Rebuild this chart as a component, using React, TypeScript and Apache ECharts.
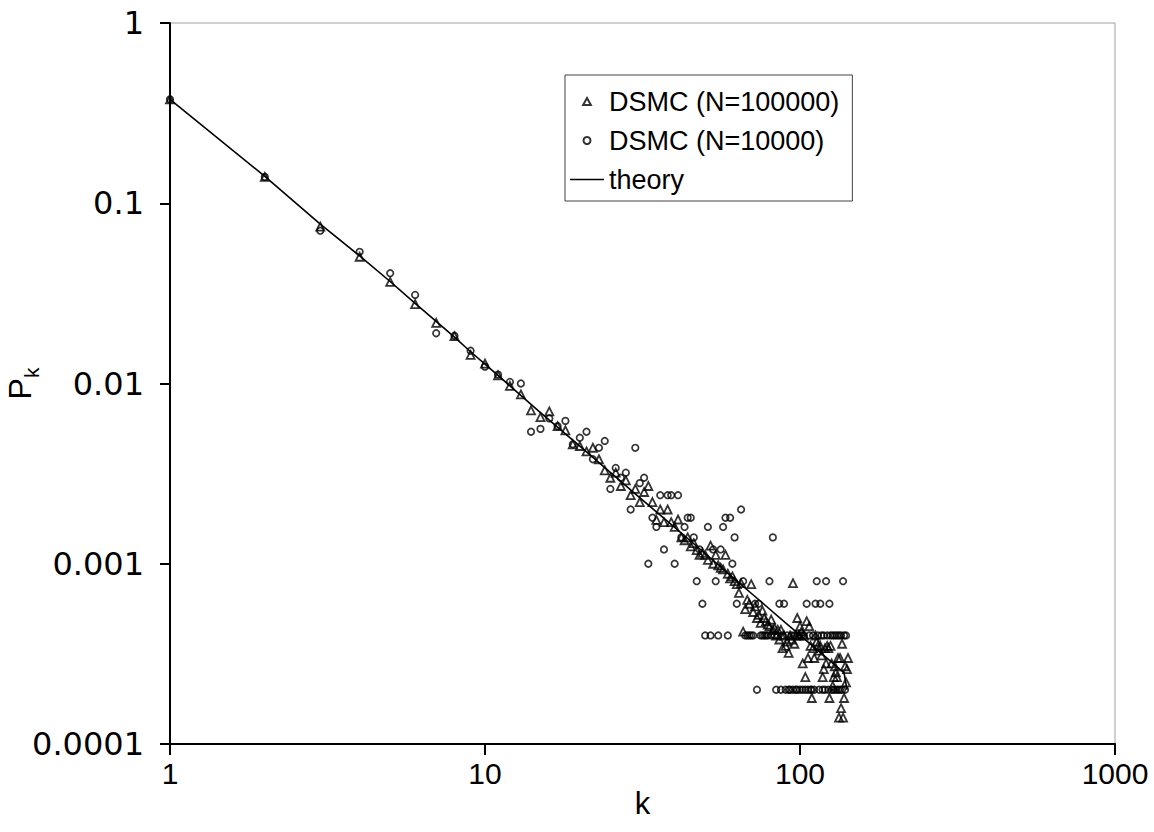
import React, { useEffect, useRef } from 'react';
import * as echarts from 'echarts';

const xTickLabels = ['1', '10', '100', '1000'];
const yTickLabels = ['0.0001', '0.001', '0.01', '0.1', '1'];

const theoryK = [1, 2, 3, 4, 5, 6, 7, 8, 9, 10, 12, 15, 20, 25, 30, 40, 50, 60, 70, 80, 90, 100, 110, 120, 130, 138, 141];
const theoryP = [0.377, 0.141, 0.0765, 0.051, 0.0368, 0.0278, 0.0221, 0.0181, 0.015, 0.0128, 0.0097, 0.0069, 0.00449, 0.00321, 0.00244, 0.00159, 0.00114, 0.000864, 0.000686, 0.000561, 0.00047, 0.000402, 0.000348, 0.000306, 0.000271, 0.000248, 0.0002];

const triK = [
  1, 2, 3, 4, 5, 6, 7, 8, 9, 10, 11, 12, 13, 14, 15, 16, 17, 18, 19, 20,
  21, 22, 23, 24, 25, 26, 27, 28, 29, 30, 31, 32, 33, 34, 35, 36, 37, 38, 39, 40,
  41, 42, 43, 44, 45, 46, 47, 48, 49, 50, 51, 52, 53, 54, 55, 56, 57, 58, 59, 60,
  61, 62, 63, 64, 65, 66, 67, 68, 69, 70, 71, 72, 73, 74, 75, 76, 77, 78, 79, 80,
  81, 82, 83, 84, 85, 86, 87, 88, 89, 90, 91, 92, 93, 94, 95, 96, 97, 98, 99, 100,
  101, 102, 103, 104, 105, 106, 107, 108, 109, 110, 111, 112, 113, 114, 115, 116, 117, 118, 119, 120,
  121, 122, 123, 124, 125, 126, 127, 128, 129, 130, 131, 132, 133, 134, 135, 136, 137, 138, 139, 140,
  141, 142,
];
const triP = [
  0.377, 0.14, 0.0741, 0.0505, 0.0366, 0.0276, 0.0217, 0.0183, 0.0144, 0.0129,
  0.0111, 0.0097, 0.0087, 0.0071, 0.0065, 0.007, 0.0058, 0.0055, 0.0046, 0.0045,
  0.0042, 0.0044, 0.0038, 0.0033, 0.003, 0.0032, 0.0027, 0.0029, 0.0024, 0.0026,
  0.0022, 0.0025, 0.0027, 0.0022, 0.00175, 0.002, 0.0017, 0.002, 0.0017, 0.0016,
  0.00176, 0.0014, 0.00135, 0.0014, 0.00125, 0.0013, 0.00119, 0.00112, 0.00115, 0.00112,
  0.00105, 0.00126, 0.001, 0.00112, 0.00098, 0.00095, 0.00093, 0.00112, 0.00088, 0.00083,
  0.00085, 0.0008, 0.00077, 0.00069, 0.00078, 0.00042, 0.00056, 0.00063, 0.0006, 0.00077,
  0.00054, 0.00058, 0.0005, 0.00052, 0.00047, 0.00055, 0.0005, 0.00048, 0.00046, 0.00045,
  0.00049, 0.00043, 0.00044, 0.0004, 0.00043, 0.00038, 0.00043, 0.00034, 0.0004, 0.00035,
  0.00037, 0.00032, 0.0004, 0.00038, 0.00078, 0.00036, 0.0004, 0.0005, 0.0004, 0.00045,
  0.00042, 0.00028, 0.0004, 0.000235, 0.00048, 0.0003, 0.00045, 0.00035, 0.00018, 0.00034,
  0.0003, 0.0004, 0.00037, 0.00035, 0.00033, 0.00035, 0.00031, 0.000235, 0.00026, 0.00034,
  0.00028, 0.00035, 0.00034, 0.00018, 0.00035, 0.00028, 0.00021, 0.000235, 0.00027, 0.00025,
  0.000235, 0.0003, 0.00014, 0.0003, 0.000158, 0.00036, 0.00014, 0.00018, 0.00027, 0.00022,
  0.00026, 0.0003,
];

const circK = [
  1, 2, 3, 4, 5, 6, 7, 8, 9, 10, 11, 12, 13, 14, 15, 16, 17, 18, 19, 20,
  21, 22, 23, 24, 25, 26, 27, 28, 29, 30, 31, 32, 33, 34, 35, 36, 37, 38, 39, 40,
  41, 42, 43, 44, 45, 46, 47, 48, 49, 50, 51, 52, 53, 54, 55, 56, 57, 58, 59, 60,
  61, 62, 63, 65, 66, 67, 68, 69, 70, 71, 72, 73, 74, 75, 76, 77, 78, 79, 80,
  81, 82, 83, 84, 85, 86, 87, 88, 89, 90, 91, 92, 93, 94, 95, 96, 97, 98, 99, 100,
  101, 102, 103, 104, 105, 106, 107, 108, 109, 110, 111, 112, 113, 114, 115, 116, 117, 118, 119, 120,
  121, 122, 123, 124, 125, 126, 127, 128, 129, 130, 131, 132, 133, 134, 135, 136, 137, 138, 139, 140,
];
const circP = [
  0.377, 0.14, 0.0704, 0.0538, 0.0409, 0.031, 0.019, 0.0184, 0.0152, 0.0124,
  0.0112, 0.0102, 0.01, 0.0054, 0.0056, 0.0064, 0.0058, 0.0062, 0.0046, 0.005,
  0.0054, 0.0038, 0.0044, 0.0048, 0.0026, 0.0034, 0.003, 0.0032, 0.002, 0.0044,
  0.0028, 0.003, 0.001, 0.0018, 0.0016, 0.0024, 0.0012, 0.0024, 0.0024, 0.001,
  0.0024, 0.0014, 0.0016, 0.0018, 0.0018, 0.0014, 0.0008, 0.0012, 0.0006, 0.0004,
  0.0016, 0.0004, 0.0012, 0.0008, 0.0004, 0.0012, 0.0016, 0.0018, 0.0004, 0.0018,
  0.001, 0.0014, 0.0006, 0.002, 0.0008, 0.0004, 0.0004, 0.0004, 0.0004, 0.0004,
  0.0006, 0.0002, 0.0006, 0.0004, 0.0004, 0.0004, 0.0004, 0.0004, 0.0008,
  0.0004, 0.0014, 0.0004, 0.0002, 0.0004, 0.0006, 0.0002, 0.0004, 0.0006, 0.0002,
  0.0004, 0.0002, 0.0002, 0.0004, 0.0002, 0.0004, 0.0002, 0.0002, 0.0004, 0.0002,
  0.0004, 0.0002, 0.0004, 0.0002, 0.0006, 0.0002, 0.0004, 0.0002, 0.0002, 0.0004,
  0.0002, 0.0006, 0.0008, 0.0004, 0.0002, 0.0006, 0.0004, 0.0002, 0.0004, 0.0002,
  0.0008, 0.0004, 0.0002, 0.0006, 0.0004, 0.0002, 0.0004, 0.0002, 0.0004, 0.0002,
  0.0004, 0.0002, 0.0004, 0.0002, 0.0004, 0.0002, 0.0008, 0.0004, 0.0002, 0.0004,
];

const FONT = '"Liberation Sans", Arial, sans-serif';
const WIDE = '"DejaVu Sans", "Liberation Sans", sans-serif';

export default function App() {
  const ref = useRef<HTMLDivElement>(null);
  useEffect(() => {
    if (!ref.current) return;
    const chart = echarts.init(ref.current, null, { renderer: 'svg' });
    const pairs = (ks: number[], ps: number[]) => ks.map((k, i) => [k, ps[i]]);
    chart.setOption({
      animation: false,
      backgroundColor: '#ffffff',
      grid: {
        left: 170, right: 39, top: 23, bottom: 88,
        containLabel: false, outerBoundsMode: 'none',
        show: true, borderColor: '#a0a0a0', borderWidth: 1, backgroundColor: 'transparent',
      },
      legend: {
        orient: 'vertical',
        left: 565, top: 75,
        itemWidth: 34, itemHeight: 7, itemGap: 12,
        symbolKeepAspect: true,
        padding: [13, 13, 8, 5],
        borderColor: '#404040', borderWidth: 1,
        backgroundColor: '#ffffff',
        textStyle: { fontFamily: FONT, fontSize: 27, color: '#000' },
        data: [
          { name: 'DSMC (N=100000)', icon: 'path://M5,0L10,9L0,9Z' },
          { name: 'DSMC (N=10000)', icon: 'circle' },
          { name: 'theory', icon: 'path://M0,0L34,0L34,1.5L0,1.5Z' },
        ],
      },
      xAxis: {
        type: 'log', logBase: 10, min: 1, max: 1000,
        axisLine: { show: true, onZero: false, lineStyle: { color: '#000', width: 2 } },
        axisTick: { show: true, inside: false, length: 11, lineStyle: { color: '#000', width: 2 } },
        minorTick: { show: false },
        splitLine: { show: false },
        axisLabel: {
          fontFamily: FONT, fontSize: 30, color: '#000', margin: 14,
          showMinLabel: true, showMaxLabel: true,
          formatter: (v: number) => xTickLabels[Math.round(Math.log10(v))] ?? '',
        },
        name: 'k', nameLocation: 'middle', nameGap: 44, nameMoveOverlap: false,
        nameTextStyle: { fontFamily: FONT, fontSize: 31, color: '#000' },
      },
      yAxis: {
        type: 'log', logBase: 10, min: 0.0001, max: 1,
        axisLine: { show: true, onZero: false, lineStyle: { color: '#000', width: 2 } },
        axisTick: { show: true, inside: false, length: 10, lineStyle: { color: '#000', width: 2 } },
        minorTick: { show: false },
        splitLine: { show: false },
        axisLabel: {
          fontFamily: WIDE, fontSize: 32, color: '#000', margin: 26,
          showMinLabel: true, showMaxLabel: true,
          formatter: (v: number) => yTickLabels[Math.round(Math.log10(v)) + 4] ?? '',
        },
        name: '{p|P}{s|k}', nameLocation: 'middle', nameGap: 134, nameRotate: 90,
        nameMoveOverlap: false,
        nameTextStyle: {
          fontFamily: FONT, color: '#000',
          rich: {
            p: { fontFamily: FONT, fontSize: 32, color: '#000', verticalAlign: 'bottom' },
            s: { fontFamily: FONT, fontSize: 21, color: '#000', verticalAlign: 'bottom', padding: [0, 0, -6, 0] },
          },
        },
      },
      series: [
        {
          name: 'theory', type: 'line', data: pairs(theoryK, theoryP),
          symbol: 'none', showSymbol: false, smooth: false,
          lineStyle: { color: '#000', width: 1.6 }, itemStyle: { color: '#000' }, z: 1,
        },
        {
          name: 'DSMC (N=100000)', type: 'scatter', data: pairs(triK, triP),
          symbol: 'triangle', symbolSize: 8,
          itemStyle: { color: 'rgba(0,0,0,0)', borderColor: '#000', borderWidth: 1.8 }, z: 3,
        },
        {
          name: 'DSMC (N=10000)', type: 'scatter', data: pairs(circK, circP),
          symbol: 'circle', symbolSize: 6.5,
          itemStyle: { color: 'rgba(0,0,0,0)', borderColor: '#000', borderWidth: 1.7 }, z: 2,
        },
      ],
    });
    return () => chart.dispose();
  }, []);
  return <div ref={ref} style={{ position: 'absolute', left: 0, top: 0, width: 1154, height: 832 }} />;
}
